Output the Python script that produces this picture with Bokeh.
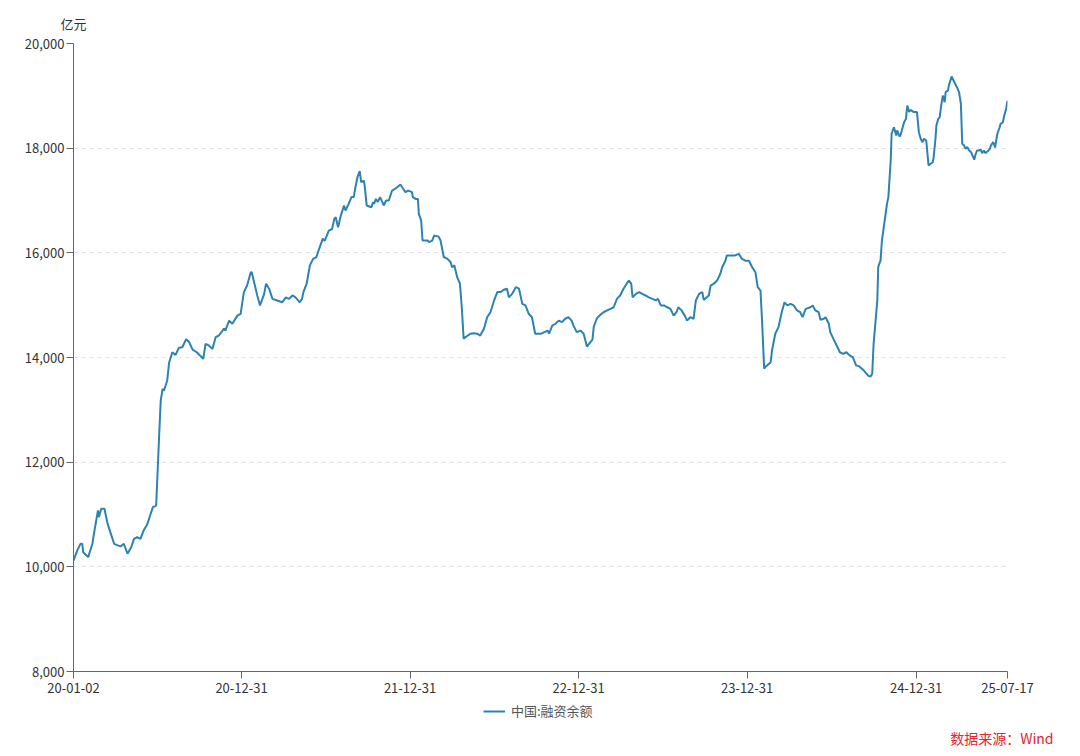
import pandas as pd
from bokeh.plotting import figure
from bokeh.layouts import column
from bokeh.models import (ColumnDataSource, FixedTicker, DatetimeTickFormatter, NumeralTickFormatter,
                          Legend, LegendItem, Range1d, Title)
from bokeh.embed import file_html
from bokeh.resources import INLINE

# ---------------- data ----------------
dates_2020 = ["2020-01-02","2020-01-10","2020-01-17","2020-01-21","2020-01-23","2020-02-03","2020-02-05",
              "2020-02-12","2020-02-14","2020-02-24","2020-02-26","2020-03-02","2020-03-09","2020-03-16",
              "2020-03-23","2020-03-30","2020-04-07","2020-04-13","2020-04-20","2020-04-28","2020-05-06",
              "2020-05-12","2020-05-19","2020-05-26","2020-06-02","2020-06-10","2020-06-17","2020-06-22",
              "2020-06-29","2020-07-02","2020-07-06","2020-07-09","2020-07-13","2020-07-16","2020-07-23",
              "2020-07-27","2020-08-03","2020-08-10","2020-08-17","2020-08-25","2020-09-02","2020-09-08",
              "2020-09-16","2020-09-25","2020-10-09","2020-10-14","2020-10-21","2020-10-29","2020-11-05",
              "2020-11-12","2020-11-23","2020-11-26","2020-12-04","2020-12-11","2020-12-22","2020-12-29"]
values_2020 = [10120,10310,10440,10440,10280,10185,10250,
               10440,10565,11080,10950,11110,11110,10820,
               10630,10440,10410,10390,10440,10250,10375,
               10535,10565,10535,10695,10820,11010,11140,
               11170,11780,12610,13180,13400,13370,13560,
               13900,14100,14050,14180,14200,14350,14300,
               14150,14100,13975,14260,14230,14165,14390,
               14420,14550,14515,14705,14645,14800,14835]

dates_2021 = ["2021-01-05","2021-01-12","2021-01-20","2021-01-22","2021-01-28","2021-02-03","2021-02-09",
              "2021-02-18","2021-02-22","2021-03-01","2021-03-08","2021-03-18","2021-03-29","2021-04-06",
              "2021-04-13","2021-04-20","2021-04-27","2021-05-06","2021-05-11","2021-05-14","2021-05-21",
              "2021-05-28","2021-06-04","2021-06-11","2021-06-18","2021-06-25","2021-06-29","2021-07-08",
              "2021-07-15","2021-07-20","2021-07-23","2021-07-28","2021-08-03","2021-08-10","2021-08-13",
              "2021-08-20","2021-08-26","2021-08-31","2021-09-03","2021-09-08","2021-09-13","2021-09-16",
              "2021-09-22","2021-09-24","2021-09-28","2021-10-08","2021-10-12","2021-10-14","2021-10-18",
              "2021-10-22","2021-10-27","2021-11-01","2021-11-04","2021-11-09","2021-11-15","2021-11-22",
              "2021-11-29","2021-12-03","2021-12-10","2021-12-16","2021-12-21","2021-12-27"]
values_2021 = [15250,15375,15630,15630,15410,15185,14995,
               15215,15410,15310,15120,15090,15055,15150,
               15120,15185,15150,15055,15120,15250,15410,
               15760,15885,15920,16100,16270,16230,16425,
               16455,16650,16680,16490,16710,16905,16810,
               16935,17065,17065,17225,17445,17560,17350,
               17380,17255,16905,16870,16970,16935,17030,
               16970,17065,16970,16905,17000,17000,17190,
               17225,17255,17305,17225,17160,17190]

dates_2022 = ["2022-01-04","2022-01-06","2022-01-12","2022-01-17","2022-01-19","2022-01-24","2022-01-27",
              "2022-02-07","2022-02-10","2022-02-17","2022-02-21","2022-03-03","2022-03-07","2022-03-14",
              "2022-03-22","2022-03-29","2022-04-01","2022-04-06","2022-04-12","2022-04-18","2022-04-22",
              "2022-04-26","2022-05-05","2022-05-11","2022-05-18","2022-05-25","2022-06-01","2022-06-09",
              "2022-06-16","2022-06-23","2022-07-01","2022-07-08","2022-07-15","2022-07-22","2022-07-29",
              "2022-08-02","2022-08-09","2022-08-17","2022-08-24","2022-08-31","2022-09-07","2022-09-14",
              "2022-09-21","2022-09-28","2022-10-11","2022-10-18","2022-10-25","2022-10-28","2022-11-04",
              "2022-11-11","2022-11-18","2022-11-25","2022-12-02","2022-12-09","2022-12-16","2022-12-20",
              "2022-12-27"]
values_2022 = [17160,17065,17030,17030,16745,16620,16235,
               16235,16205,16235,16330,16310,16235,15920,
               15885,15820,15725,15760,15535,15410,14960,
               14360,14420,14455,14465,14455,14420,14550,
               14770,14865,15090,15250,15250,15295,15315,
               15150,15215,15345,15315,15025,14995,14835,
               14770,14455,14455,14485,14515,14455,14610,
               14645,14705,14675,14740,14770,14705,14610,
               14485]

dates_2023 = ["2023-01-04","2023-01-11","2023-01-18","2023-01-30","2023-02-02","2023-02-09","2023-02-16",
              "2023-02-23","2023-03-03","2023-03-10","2023-03-17","2023-03-24","2023-03-31","2023-04-07",
              "2023-04-14","2023-04-19","2023-04-24","2023-04-27","2023-05-04","2023-05-11","2023-05-18",
              "2023-05-25","2023-06-01","2023-06-09","2023-06-16","2023-06-21","2023-06-27","2023-07-04",
              "2023-07-11","2023-07-18","2023-07-25","2023-07-31","2023-08-04","2023-08-11","2023-08-18",
              "2023-08-23","2023-08-30","2023-09-06","2023-09-11","2023-09-18","2023-09-25","2023-09-28",
              "2023-10-09","2023-10-13","2023-10-20","2023-10-27","2023-11-03","2023-11-07","2023-11-14",
              "2023-11-17","2023-11-28","2023-12-05","2023-12-13","2023-12-20","2023-12-27"]
values_2023 = [14515,14455,14210,14340,14595,14755,14815,
               14865,14900,14930,14960,15120,15185,15310,
               15410,15470,15410,15150,15215,15250,15215,
               15185,15150,15120,15090,15120,14995,14995,
               14960,14930,14800,14865,14960,14900,14800,
               14705,14770,14740,15090,15215,15250,15100,
               15185,15375,15410,15470,15600,15725,15850,
               15950,15950,15950,15980,15885,15850]

dates_2024 = ["2024-01-04","2024-01-11","2024-01-18","2024-01-23","2024-01-29","2024-02-01","2024-02-06",
              "2024-02-08","2024-02-20","2024-02-23","2024-03-01","2024-03-08","2024-03-15","2024-03-21",
              "2024-03-27","2024-04-03","2024-04-10","2024-04-17","2024-04-24","2024-04-29","2024-05-06",
              "2024-05-16","2024-05-21","2024-05-27","2024-06-03","2024-06-07","2024-06-14","2024-06-18",
              "2024-06-25","2024-06-28","2024-07-05","2024-07-12","2024-07-19","2024-07-26","2024-08-02",
              "2024-08-09","2024-08-16","2024-08-23","2024-08-30","2024-09-09","2024-09-18","2024-09-23",
              "2024-09-27","2024-09-30","2024-10-08","2024-10-10","2024-10-11","2024-10-15","2024-10-18",
              "2024-10-25","2024-10-29","2024-11-01","2024-11-06","2024-11-08","2024-11-13","2024-11-18",
              "2024-11-20","2024-11-25","2024-11-27","2024-12-02","2024-12-05","2024-12-09","2024-12-12",
              "2024-12-16","2024-12-19","2024-12-26"]
values_2024 = [15850,15725,15630,15345,15280,14770,13785,
               13815,13910,14135,14455,14580,14865,15055,
               14995,15025,14995,14900,14865,14770,14930,
               14960,14995,14900,14865,14720,14740,14770,
               14645,14485,14355,14230,14100,14070,14100,
               14040,14005,13850,13830,13750,13655,13635,
               13690,14260,15090,15725,15760,15850,16235,
               16680,16935,17065,17765,18275,18400,18240,
               18340,18225,18240,18400,18495,18560,18815,
               18690,18730,18690]

dates_2025 = ["2025-01-02","2025-01-06","2025-01-10","2025-01-14","2025-01-17","2025-01-22","2025-01-27",
              "2025-02-05","2025-02-07","2025-02-11","2025-02-13","2025-02-17","2025-02-20","2025-02-24",
              "2025-02-27","2025-03-03","2025-03-05","2025-03-10","2025-03-12","2025-03-18","2025-03-24",
              "2025-03-31","2025-04-03","2025-04-07","2025-04-10","2025-04-14","2025-04-17","2025-04-21",
              "2025-04-25","2025-04-29","2025-05-06","2025-05-08","2025-05-12","2025-05-16","2025-05-20",
              "2025-05-23","2025-05-27","2025-05-30","2025-06-04","2025-06-09","2025-06-11","2025-06-16",
              "2025-06-19","2025-06-20","2025-06-25","2025-06-30","2025-07-02","2025-07-07","2025-07-10",
              "2025-07-14","2025-07-17"]
values_2025 = [18690,18305,18180,18115,18180,18145,17670,
               17730,17825,18180,18435,18560,18590,18850,
               19005,18880,19070,19100,19200,19370,19260,
               19135,19070,18850,18085,18050,17990,18020,
               17955,17925,17780,17860,17955,17955,17970,
               17905,17955,17905,17940,17990,18050,18115,
               18050,18010,18275,18400,18465,18495,18625,
               18750,18910]

tick_dates = ["2020-01-02", "2020-12-31", "2021-12-31", "2022-12-31", "2023-12-31", "2024-12-31", "2025-07-17"]
y_ticks = [8000, 10000, 12000, 14000, 16000, 18000, 20000]
series_name = "中国:融资余额"
unit_text = "亿元"
source_text = "数据来源：Wind"

# ---------------- build ----------------
all_dates = dates_2020 + dates_2021 + dates_2022 + dates_2023 + dates_2024 + dates_2025
all_values = values_2020 + values_2021 + values_2022 + values_2023 + values_2024 + values_2025
src = ColumnDataSource(dict(date=pd.to_datetime(all_dates), value=all_values))

FONT = "Noto Sans CJK SC"
LINE_COLOR = "#2c82b2"
FRAME_W = 934

def ms(d):
    return float(pd.Timestamp(d).value // 10**6)

x_start = ms(tick_dates[0])
x_end = ms(tick_dates[-1])

p = figure(frame_width=FRAME_W, frame_height=628, x_axis_type="datetime",
           x_range=Range1d(x_start, x_end), y_range=Range1d(y_ticks[0], y_ticks[-1]),
           output_backend="svg", toolbar_location=None,
           min_border_left=73, min_border_right=57, min_border_top=43, min_border_bottom=30)
p.outline_line_color = None
p.background_fill_color = "white"
p.border_fill_color = "white"

r = p.line("date", "value", source=src, line_color=LINE_COLOR, line_width=2)

# x axis
p.xaxis.ticker = FixedTicker(ticks=[ms(d) for d in tick_dates])
fmt = "%y-%m-%d"
p.xaxis.formatter = DatetimeTickFormatter(milliseconds=fmt, seconds=fmt, minsec=fmt, minutes=fmt,
                                          hourmin=fmt, hours=fmt, days=fmt, months=fmt, years=fmt)
p.xaxis.axis_line_color = "#666666"
p.xaxis.major_tick_line_color = "#666666"
p.xaxis.major_tick_out = 7
p.xaxis.major_tick_in = 0
p.xaxis.minor_tick_line_color = None
p.xaxis.major_label_text_font = FONT
p.xaxis.major_label_text_font_size = "13px"
p.xaxis.major_label_text_color = "#333333"
p.xaxis.major_label_standoff = 4

# y axis
p.yaxis.ticker = FixedTicker(ticks=y_ticks)
p.yaxis.formatter = NumeralTickFormatter(format="0,0")
p.yaxis.axis_line_color = "#666666"
p.yaxis.major_tick_line_color = "#666666"
p.yaxis.major_tick_out = 7
p.yaxis.major_tick_in = 0
p.yaxis.minor_tick_line_color = None
p.yaxis.major_label_text_font = FONT
p.yaxis.major_label_text_font_size = "13px"
p.yaxis.major_label_text_color = "#333333"
p.yaxis.major_label_standoff = 2

# grid
p.xgrid.grid_line_color = None
p.ygrid.grid_line_color = "#e3e3e3"
p.ygrid.grid_line_dash = "4 4"
p.ygrid.grid_line_width = 1

# unit label above the y axis
p.add_layout(Title(text=unit_text, align="left", offset=-13, standoff=22,
                   text_font=FONT, text_font_size="13px", text_font_style="normal",
                   text_color="#333333"), "above")

# ---------------- footer strip: legend + source note ----------------
f = figure(frame_width=FRAME_W, height=49, x_range=Range1d(0, FRAME_W), y_range=Range1d(0, 1),
           output_backend="svg", toolbar_location=None,
           min_border_left=73, min_border_right=57, min_border_top=0, min_border_bottom=0)
f.axis.visible = False
f.grid.visible = False
f.outline_line_color = None
f.background_fill_color = "white"
f.border_fill_color = "white"

# legend swatch: the same series drawn in the footer (outside its visible range)
swatch = f.line("date", "value", source=src, line_color=LINE_COLOR, line_width=2)
legend = Legend(items=[LegendItem(label=series_name, renderers=[swatch])],
                orientation="horizontal", location=(410, 2),
                border_line_color=None, background_fill_alpha=0,
                label_text_font=FONT, label_text_font_size="13px", label_text_color="#555555",
                label_height=14, glyph_width=22, glyph_height=12, label_standoff=6,
                padding=1, margin=0)
f.add_layout(legend, "center")

f.add_layout(Title(text=source_text, align="right", offset=-46, standoff=6,
                   text_font=FONT, text_font_size="14px", text_font_style="normal",
                   text_color="#e3262b"), "below")

layout = column(p, f, spacing=0)
open("out.html", "w").write(file_html(layout, INLINE))
